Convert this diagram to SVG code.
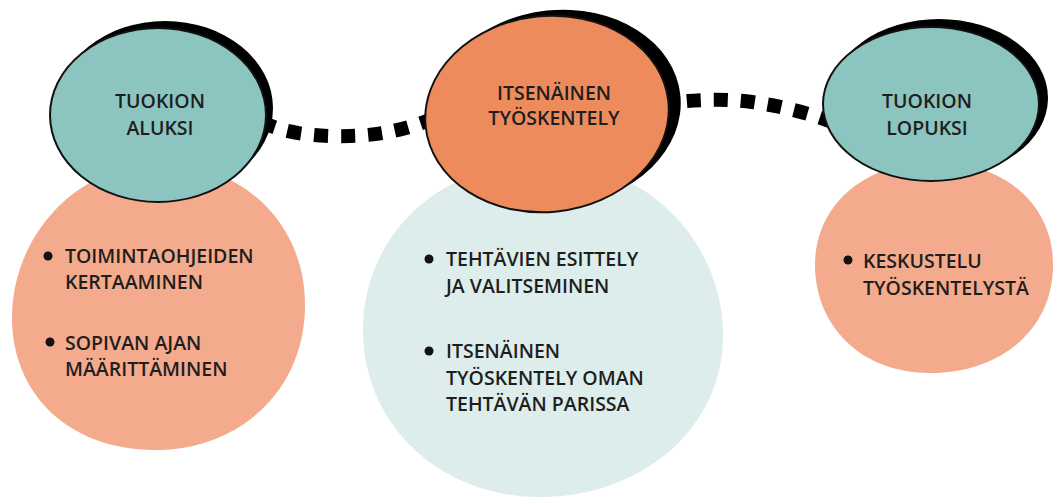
<svg xmlns="http://www.w3.org/2000/svg" width="1055" height="500" viewBox="0 0 1055 500">
<style>
text{font-family:"Open Sans","Liberation Sans",sans-serif;font-size:19.5px;font-weight:600;fill:#1e1e1e}
.t{text-anchor:middle}
.sh{fill:#000}
.teal{fill:#8CC4BF;stroke:#111;stroke-width:2}
.org{fill:#EE8B5D;stroke:#111;stroke-width:2}
.sal{fill:#F4AA8C}
.pale{fill:#DDEDEB}
.con{fill:none;stroke:#000;stroke-width:14;stroke-dasharray:14 13}
.dot{fill:#111}
</style>
<rect width="1055" height="500" fill="#fff"/>
<g id="blob-left"><path class="sal" d="M160,164 C245,164 305,225 305,305 C305,390 240,450 155,450 C70,450 12,395 12,318 C12,235 78,164 160,164 Z"/></g>
<g id="blob-center"><path class="pale" d="M545,162 C650,162 723,245 723,335 C723,430 640,497 540,497 C440,497 363,425 363,330 C363,235 440,162 545,162 Z"/></g>
<g id="blob-right"><path class="sal" d="M934,162 C1005,162 1053,205 1053,265 C1053,330 1000,373 930,373 C860,373 815,325 815,265 C815,205 865,162 934,162 Z"/></g>
<g id="connectors">
<path class="con" d="M262,122 C285,134 320,137 350,136 C385,135 410,128 440,116"/>
<path class="con" d="M660,104 C690,100 720,98 752,102 C780,106 805,112 832,122"/>
</g>
<g id="node-start">
<ellipse class="sh" cx="165" cy="108" rx="108" ry="87"/>
<ellipse class="teal" cx="158" cy="115" rx="108" ry="87"/>
<text class="t" x="160" y="108">TUOKION</text>
<text class="t" x="160" y="135">ALUKSI</text>
</g>
<g id="node-work">
<ellipse class="sh" cx="557" cy="108" rx="124" ry="98" transform="rotate(-6 557 108)"/>
<ellipse class="org" cx="547" cy="114" rx="122" ry="98" transform="rotate(-6 547 114)"/>
<text class="t" x="554" y="100">ITSENÄINEN</text>
<text class="t" x="554" y="125">TYÖSKENTELY</text>
</g>
<g id="node-end">
<ellipse class="sh" cx="939" cy="98" rx="109" ry="79"/>
<ellipse class="teal" cx="931" cy="104" rx="108" ry="77"/>
<text class="t" x="927" y="108">TUOKION</text>
<text class="t" x="927" y="135">LOPUKSI</text>
</g>
<g id="list-start">
<circle class="dot" cx="48" cy="256" r="4.5"/>
<text x="65" y="263">TOIMINTAOHJEIDEN</text>
<text x="65" y="289">KERTAAMINEN</text>
<circle class="dot" cx="50" cy="342" r="4.5"/>
<text x="65" y="350">SOPIVAN AJAN</text>
<text x="65" y="376">MÄÄRITTÄMINEN</text>
</g>
<g id="list-work">
<circle class="dot" cx="429" cy="259" r="4.5"/>
<text x="446" y="266">TEHTÄVIEN ESITTELY</text>
<text x="446" y="293">JA VALITSEMINEN</text>
<circle class="dot" cx="429" cy="351" r="4.5"/>
<text x="446" y="358">ITSENÄINEN</text>
<text x="446" y="385">TYÖSKENTELY OMAN</text>
<text x="446" y="411">TEHTÄVÄN PARISSA</text>
</g>
<g id="list-end">
<circle class="dot" cx="848" cy="260" r="4.5"/>
<text x="863" y="268">KESKUSTELU</text>
<text x="863" y="295">TYÖSKENTELYSTÄ</text>
</g>
</svg>
